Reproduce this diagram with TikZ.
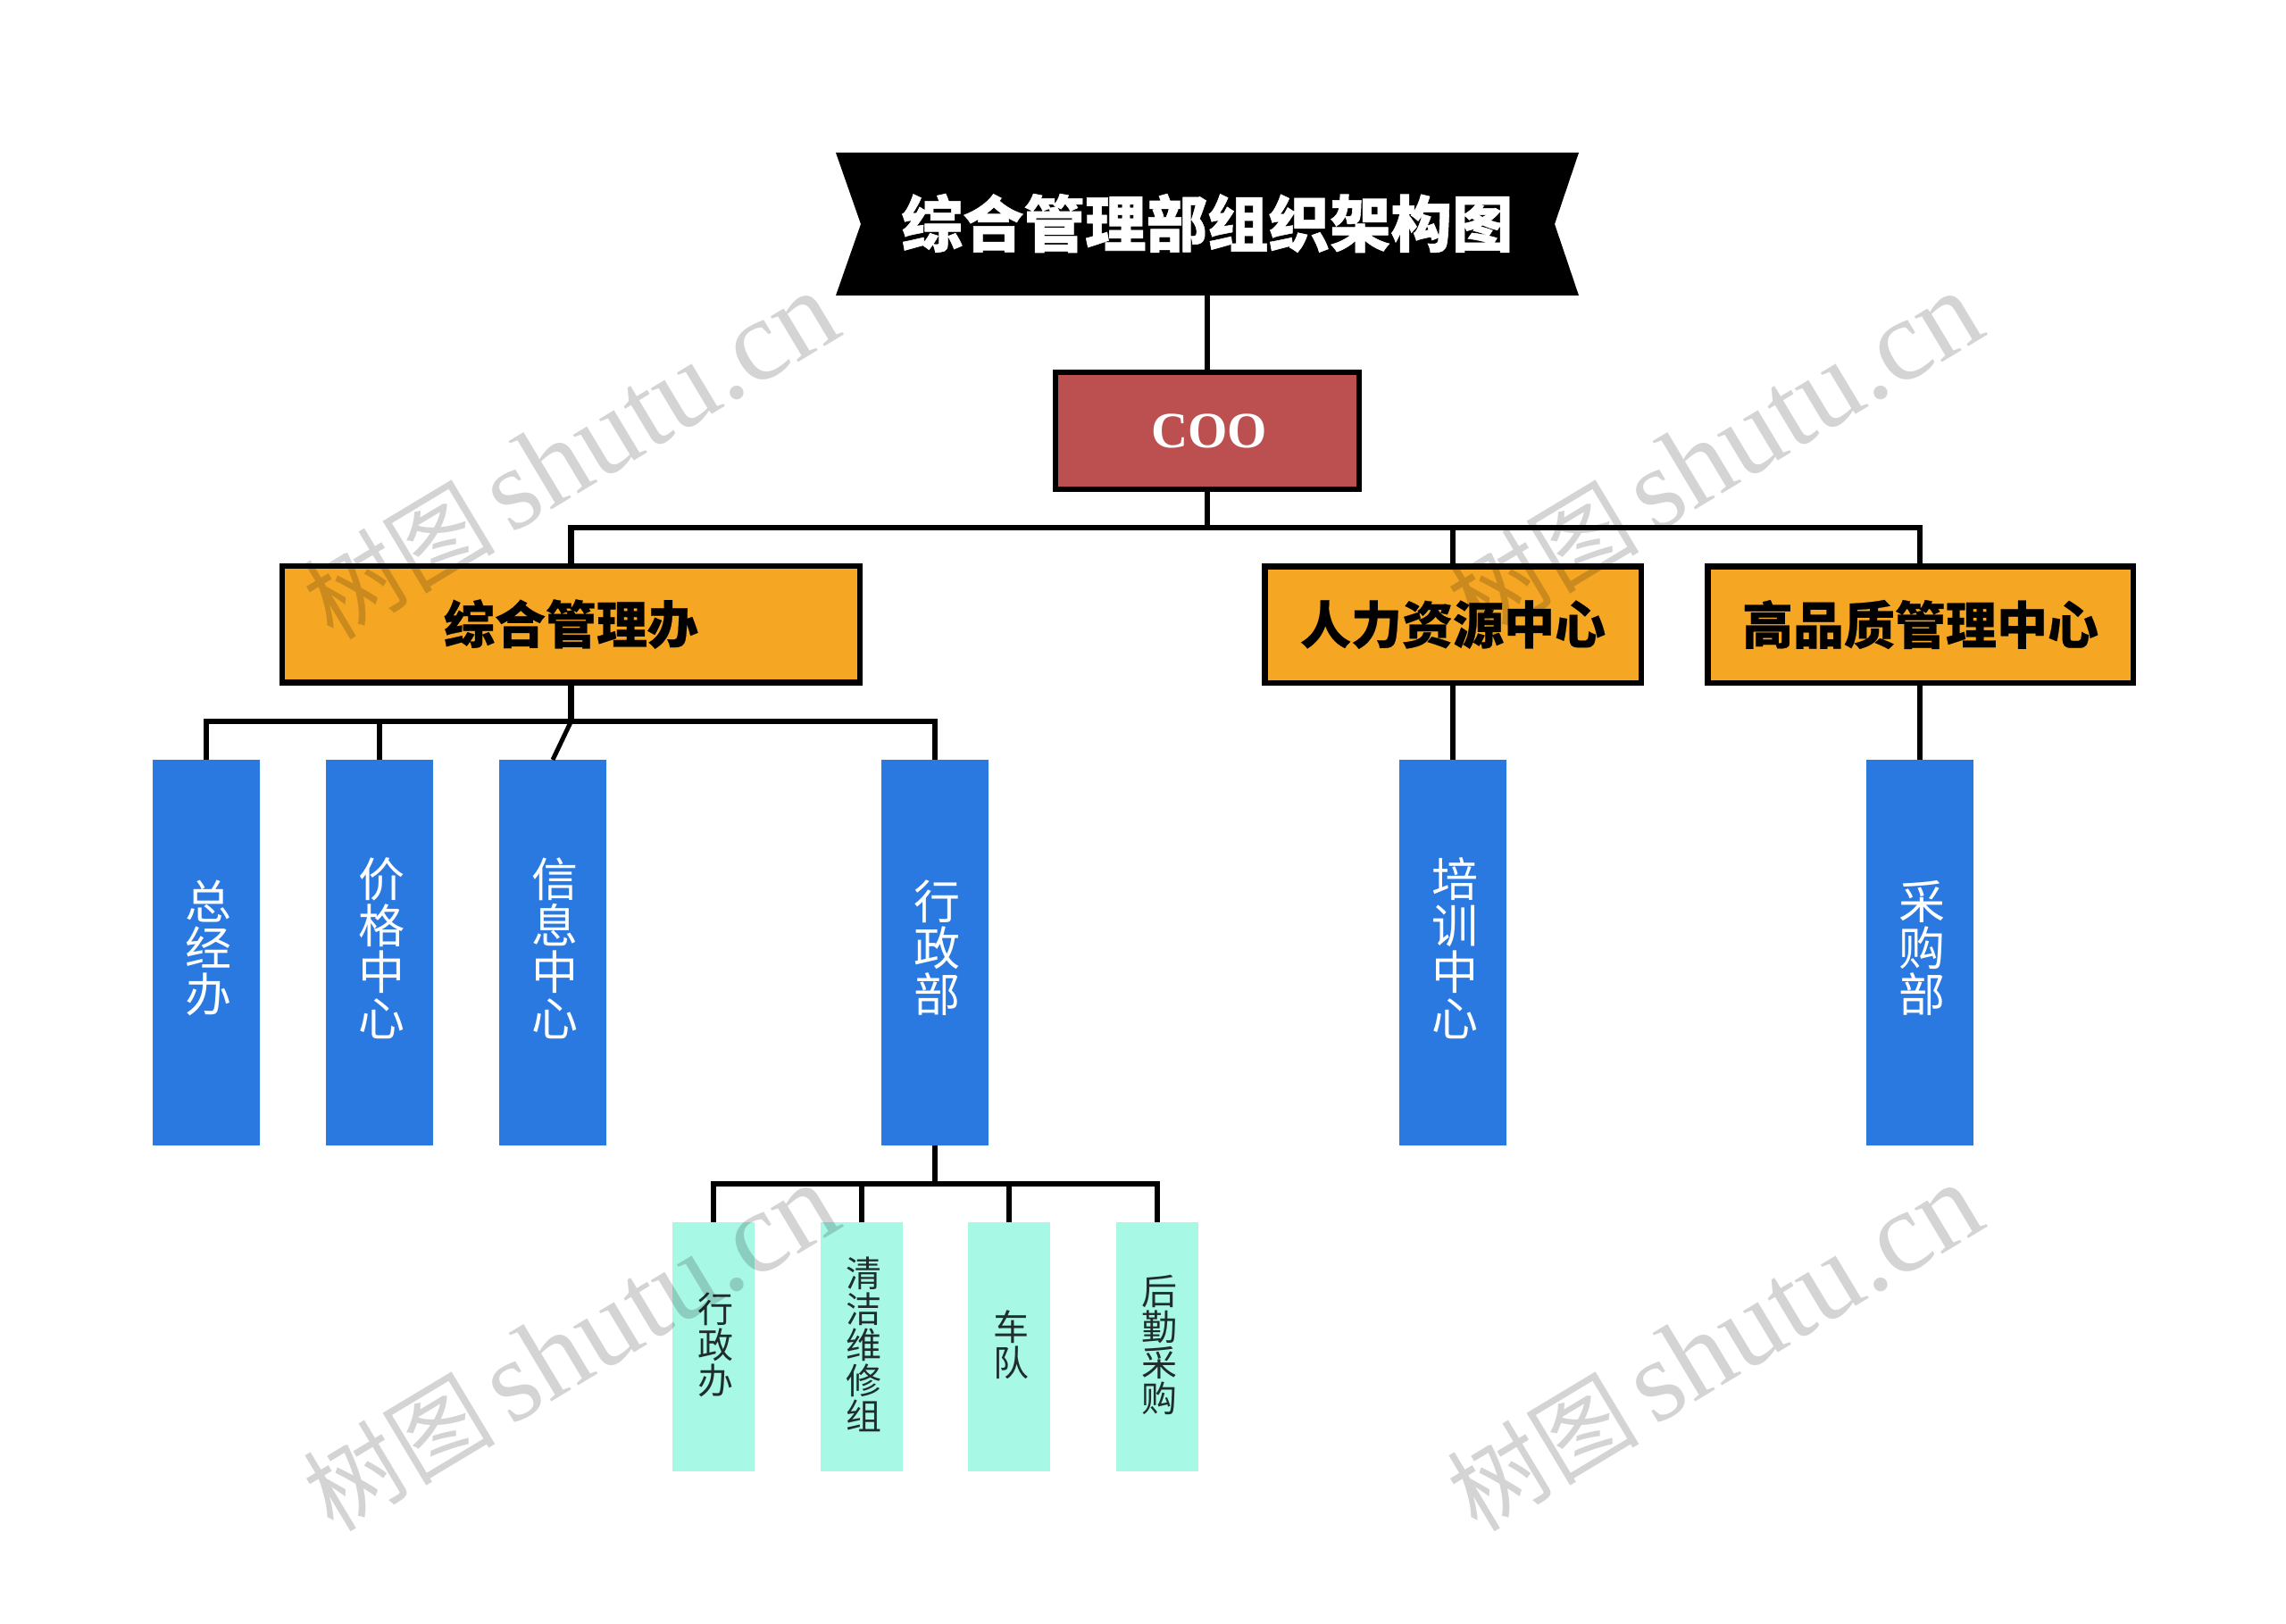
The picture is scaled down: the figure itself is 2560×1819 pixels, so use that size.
\documentclass[tikz,border=0pt]{standalone}
\usepackage{fontspec}
\setmainfont{Liberation Serif}
\newfontfamily\cjk{Noto Sans CJK SC}
\newfontfamily\cjkb[FakeBold=0.4]{Noto Sans CJK SC Black}
\newfontfamily\cjkt[FakeBold=0.8]{Noto Sans CJK SC Black}
\newfontfamily\cjkm{Noto Sans CJK SC}
\definecolor{coored}{HTML}{BC5050}
\definecolor{orangebox}{HTML}{F5A623}
\definecolor{bluebox}{HTML}{2979E0}
\definecolor{tealbox}{HTML}{A8F8E6}
\definecolor{darktext}{HTML}{1F2D2D}
\tikzset{
  conn/.style={draw=black,line width=6.5pt},
  orangenode/.style={draw=black,line width=6.5pt,fill=orangebox,rectangle,inner sep=0pt,outer sep=0pt,minimum height=130.5pt,text=black,font=\fontsize{57}{57}\selectfont\cjkb},
  bluenode/.style={fill=bluebox,rectangle,inner sep=0pt,outer sep=0pt,minimum width=120pt,minimum height=432pt},
  tealnode/.style={fill=tealbox,rectangle,inner sep=0pt,outer sep=0pt,minimum width=92pt,minimum height=279pt},
  bluetext/.style={text=white,inner sep=0pt,align=center,font=\fontsize{52}{52}\selectfont\cjk},
  tealtext/.style={text=darktext,inner sep=0pt,align=center,font=\fontsize{40}{40}\selectfont\cjk},
  wmtext/.style={text=black,opacity=0.17,rotate=31,inner sep=0pt}
}
\begin{document}
\begin{tikzpicture}[x=1pt,y=-1pt]
\useasboundingbox (0,0) rectangle (2560,1819);
\fill[white] (0,0) rectangle (2560,1819);
\coordinate (bannerbot) at (1352,331);
\coordinate (j0) at (1352,591);
\node[draw=black,line width=6.5pt,fill=coored,rectangle,inner sep=0pt,outer sep=0pt,minimum width=340pt,minimum height=131pt,text=white,font=\fontsize{57}{57}\selectfont\bfseries] (coo) at (1352,482.5) {\hspace{4pt}COO};
\node[orangenode,minimum width=647pt] (o1) at (639.5,699) {综合管理办};
\node[orangenode,minimum width=421.5pt] (o2) at (1627,699.5) {人力资源中心};
\node[orangenode,minimum width=476.5pt] (o3) at (2150.5,699.5) {高品质管理中心};
\node[bluenode] (b1) at (231,1067) {};
\node[bluenode] (b2) at (425,1067) {};
\node[bluenode] (b3) at (619,1067) {};
\node[bluenode] (b4) at (1047,1067) {};
\node[bluenode] (b5) at (1627,1067) {};
\node[bluenode] (b6) at (2150,1067) {};
\node[tealnode] (t1) at (799,1508.5) {};
\node[tealnode] (t2) at (965,1508.5) {};
\node[tealnode] (t3) at (1130,1508.5) {};
\node[tealnode] (t4) at (1296,1508.5) {};
\path[fill=black] (936,171) -- (1768,171) -- (1741,251) -- (1768,331) -- (936,331) -- (964,251) -- cycle;
\node[text=white,inner sep=0pt,font=\fontsize{68.5}{69}\selectfont\cjkt] (title) at (1352,250) {综合管理部组织架构图};
\draw[conn] (bannerbot) -- (coo.north);
\draw[conn] (coo.south) -- (j0);
\draw[conn] (o1.north) -- (o1.north |- j0) -- (b6.north |- j0) -- (b6.north |- o3.north);
\draw[conn] (b5.north |- j0) -- (b5.north |- o2.north);
\coordinate (j1) at (639.5,808);
\draw[conn] (o1.south) -- (j1);
\draw[conn] (b1.north) -- (b1.north |- j1) -- (b4.north |- j1) -- (b4.north);
\draw[conn] (b2.north) -- (b2.north |- j1);
\draw[conn,line width=5pt] (j1) -- (b3.north);
\draw[conn] (b5.north |- o2.south) -- (b5.north);
\draw[conn] (b6.north |- o3.south) -- (b6.north);
\coordinate (j2) at (1047,1326);
\draw[conn] (b4.south) -- (j2);
\draw[conn] (t1.north) -- (t1.north |- j2) -- (t4.north |- j2) -- (t4.north);
\draw[conn] (t2.north) -- (t2.north |- j2);
\draw[conn] (t3.north) -- (t3.north |- j2);
\node[bluetext] (l1) at (233,1062) {总\\经\\办};
\node[bluetext] (l2) at (427,1062) {价\\格\\中\\心};
\node[bluetext] (l3) at (621,1062) {信\\息\\中\\心};
\node[bluetext] (l4) at (1049,1062) {行\\政\\部};
\node[bluetext] (l5) at (1629,1062) {培\\训\\中\\心};
\node[bluetext] (l6) at (2152,1062) {采\\购\\部};
\node[tealtext] (m1) at (801,1506) {行\\政\\办};
\node[tealtext] (m2) at (967,1506) {清\\洁\\维\\修\\组};
\node[tealtext] (m3) at (1132,1506) {车\\队};
\node[tealtext] (m4) at (1298,1506) {后\\勤\\采\\购};
\foreach \wx/\wy/\wn in {639/511/w1,1920/511/w2,639/1510/w3,1920/1510/w4}{
  \node[wmtext] (\wn) at (\wx,\wy) {{\fontsize{108}{108}\selectfont\cjkm 树图}\hspace{14pt} {\fontsize{130}{130}\selectfont shutu.cn}};
}
\end{tikzpicture}
\end{document}
